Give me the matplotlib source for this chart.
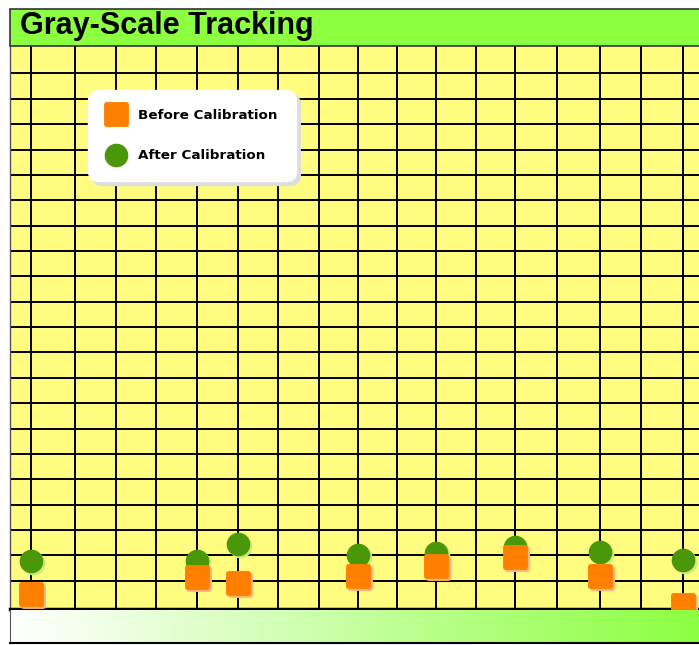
import numpy as np
import matplotlib
matplotlib.use("Agg")
import matplotlib.pyplot as plt
import matplotlib.transforms as mtransforms
from matplotlib.markers import MarkerStyle
from matplotlib.colors import LinearSegmentedColormap
from matplotlib.patches import Rectangle

# sample positions (grid ticks) and readings
grid_x = [0, 44, 85, 125, 166, 207, 247, 288, 327, 366, 405, 445, 484, 526, 568, 609, 651]
sample_x = [0, 166, 207, 327, 405, 484, 568, 651]
before_cal = [0.48, 1.16, 0.92, 1.21, 1.58, 1.95, 1.19, 0.03]
after_cal = [1.79, 1.79, 2.45, 2.03, 2.10, 2.34, 2.13, 1.84]
grid_y = list(range(1, 22))

title = "Gray-Scale Tracking"
labels = ["Before Calibration", "After Calibration"]

orange = "#FF8000"
orange_sh = "#FFB27A"
green = "#4A980A"
green_sh = "#C9EC78"
yellow = "#FFFC80"
band = "#8CFF40"

W, H = 699, 645
fig = plt.figure(figsize=(W / 100, H / 100), dpi=100)

# main plot area
ax = fig.add_axes([10 / W, 1 - 609 / H, 690 / W, (609 - 46) / H])
ax.set_facecolor(yellow)
ax.set_xlim(-20.7, 668.3)
ax.set_ylim(-0.11, 22.08)
ax.set_xticks(grid_x)
ax.set_yticks(grid_y)
ax.grid(True, color="black", lw=1.4)
ax.set_axisbelow(True)
ax.tick_params(length=0, labelbottom=False, labelleft=False)
for s in ["top", "right"]:
    ax.spines[s].set_visible(False)
ax.spines["left"].set_color("#555555")
ax.spines["left"].set_linewidth(1)
ax.spines["bottom"].set_color("black")
ax.spines["bottom"].set_linewidth(2.5)

sq = MarkerStyle("s", joinstyle="round")
shadow = mtransforms.offset_copy(ax.transData, fig=fig, x=2, y=-2, units="dots")

# shadows first
ax.plot(sample_x, after_cal, ls="none", marker="o", ms=16, mfc=green_sh, mec=green_sh,
        transform=shadow, zorder=3)
ax.plot(sample_x, before_cal, ls="none", marker=sq, ms=14, mfc=orange_sh, mec=orange_sh,
        mew=3.5, transform=shadow, zorder=3)

ax.plot(sample_x, after_cal, ls="none", marker="o", ms=16, mfc=green, mec=green,
        zorder=4, label=labels[1])
ax.plot(sample_x, before_cal, ls="none", marker=sq, ms=14, mfc=orange, mec=orange,
        mew=3.5, zorder=5, label=labels[0])

h, l = ax.get_legend_handles_labels()
leg = ax.legend(h[::-1], l[::-1], loc="upper left",
                bbox_to_anchor=(88 / W, 1 - 90 / H), bbox_transform=fig.transFigure,
                prop={"family": "DejaVu Sans", "weight": "bold", "size": 9.7},
                frameon=True, fancybox=True, framealpha=1, facecolor="white",
                edgecolor="white", borderpad=1.4, labelspacing=2.05, borderaxespad=0,
                handlelength=1.3, handletextpad=1.0, numpoints=1,
                shadow={"color": "#dddddd", "ox": 3, "oy": -3, "alpha": 1})
leg.get_frame().set_boxstyle("round", pad=0, rounding_size=0.8)
leg.set_zorder(10)

# title band
fig.patches.append(Rectangle((10 / W, 1 - 46 / H), 690 / W, 37 / H, transform=fig.transFigure,
                             facecolor=band, edgecolor="#333333", lw=1.2, zorder=1))
fig.text(20 / W, 1 - 26 / H, title, family="Liberation Sans", weight="bold",
         fontsize=22, va="center", ha="left")

# bottom gradient band
gax = fig.add_axes([10 / W, 1 - 643 / H, 690 / W, (643 - 610) / H])
cmap = LinearSegmentedColormap.from_list("wg", ["white", band])
gax.imshow(np.linspace(0, 1, 256).reshape(1, -1), cmap=cmap, aspect="auto")
gax.set_xticks([])
gax.set_yticks([])
for s in gax.spines.values():
    s.set_visible(False)
gax.spines["bottom"].set_visible(True)
gax.spines["bottom"].set_linewidth(1.5)
gax.spines["left"].set_visible(True)
gax.spines["left"].set_color("#555555")

fig.savefig("out.png", dpi=100)
